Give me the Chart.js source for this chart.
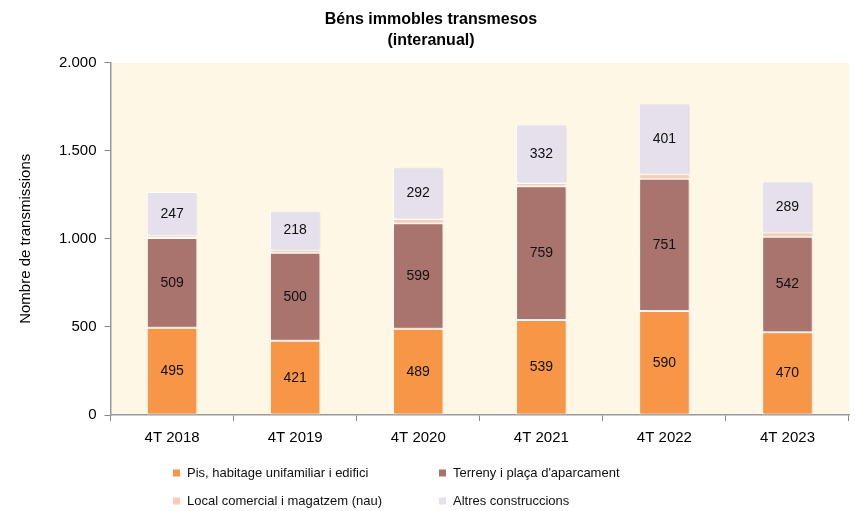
<!DOCTYPE html>
<html>
<head>
<meta charset="utf-8">
<script src="https://cdn.jsdelivr.net/npm/chart.js@4/dist/chart.umd.min.js"></script>
<style>
  body { margin: 0; background: #fff; }
  #wrap { width: 855px; height: 511px; }
</style>
</head>
<body>
<div id="wrap"><canvas id="grafic" width="855" height="511"></canvas></div>
<script>
// dades llegides del gràfic
var periodes = ["4T 2018", "4T 2019", "4T 2020", "4T 2021", "4T 2022", "4T 2023"];
var pisos = [495, 421, 489, 539, 590, 470];
var terrenys = [509, 500, 599, 759, 751, 542];
var locals = [15, 17, 25, 18, 26, 24];
var altres = [247, 218, 292, 332, 401, 289];
var ticksY = [0, 500, 1000, 1500, 2000];

var noms = ["Pis, habitage unifamiliar i edifici", "Terreny i plaça d'aparcament",
            "Local comercial i magatzem (nau)", "Altres construccions"];
var colors = ["#F79646", "#AA746E", "#FBCBB4", "#E5E0EC"];

var fontBase = "'Liberation Sans', Arial, sans-serif";

// fons crema de l'àrea del gràfic
var fons = {
  id: "fons",
  beforeDraw: function (chart) {
    var a = chart.chartArea, ctx = chart.ctx;
    ctx.save();
    ctx.fillStyle = "#FEF7E6";
    ctx.fillRect(a.left, a.top, a.right - a.left, a.bottom - a.top);
    ctx.restore();
  }
};

// ombra suau a les barres
var ombra = {
  id: "ombra",
  beforeDatasetsDraw: function (chart) {
    var ctx = chart.ctx;
    ctx.save();
    ctx.shadowColor = "rgba(0,0,0,0.15)";
    ctx.shadowBlur = 3;
    ctx.shadowOffsetX = 1;
    ctx.shadowOffsetY = 1;
  },
  afterDatasetsDraw: function (chart) {
    chart.ctx.restore();
  }
};

// valors dins de cada tram (menys el local comercial)
var etiquetes = {
  id: "etiquetes",
  afterDatasetsDraw: function (chart) {
    var ctx = chart.ctx;
    ctx.save();
    ctx.font = "14px " + fontBase;
    ctx.fillStyle = "#111";
    ctx.textAlign = "center";
    ctx.textBaseline = "middle";
    chart.data.datasets.forEach(function (ds, i) {
      if (i == 2) return;
      var meta = chart.getDatasetMeta(i);
      meta.data.forEach(function (bar, j) {
        var y = (bar.y + bar.base) / 2;
        ctx.fillText(ds.data[j], bar.x, y);
      });
    });
    ctx.restore();
  }
};

// llegenda a dues columnes
var llegenda = {
  id: "llegenda",
  afterDraw: function (chart) {
    var ctx = chart.ctx;
    var posX = [173, 439];
    var posY = [473, 501];
    ctx.save();
    ctx.font = "13px " + fontBase;
    ctx.textBaseline = "middle";
    ctx.textAlign = "left";
    for (var i = 0; i < noms.length; i++) {
      var x = posX[i % 2];
      var y = posY[Math.floor(i / 2)];
      ctx.fillStyle = colors[i];
      ctx.fillRect(x, y - 3.5, 7, 7);
      ctx.fillStyle = "#111";
      ctx.fillText(noms[i], x + 14, y);
    }
    ctx.restore();
  }
};

var series = [pisos, terrenys, locals, altres];
var datasets = [];
for (var i = 0; i < series.length; i++) {
  datasets.push({
    label: noms[i],
    data: series[i],
    backgroundColor: colors[i],
    borderColor: "#FFFFFF",
    borderWidth: 1,
    borderSkipped: false,
    categoryPercentage: 1,
    barPercentage: 0.41
  });
}

new Chart(document.getElementById("grafic"), {
  type: "bar",
  data: { labels: periodes, datasets: datasets },
  plugins: [fons, ombra, etiquetes, llegenda],
  options: {
    responsive: false,
    animation: false,
    layout: { padding: { left: 13, right: 6, top: 0, bottom: 56 } },
    plugins: {
      legend: { display: false },
      tooltip: { enabled: false },
      title: {
        display: true,
        text: ["Béns immobles transmesos", "(interanual)"],
        color: "#000",
        font: { family: fontBase, size: 16, weight: "bold", lineHeight: 1.3 },
        padding: { top: 9, bottom: 12 }
      }
    },
    scales: {
      x: {
        stacked: true,
        grid: {
          display: true,
          drawOnChartArea: false,
          drawTicks: true,
          tickLength: 6,
          color: "#888",
          offset: true
        },
        border: { color: "#999", width: 1.5 },
        ticks: { color: "#000", font: { family: fontBase, size: 15 }, padding: 8 }
      },
      y: {
        stacked: true,
        min: 0,
        max: 2000,
        afterBuildTicks: function (axis) {
          axis.ticks = ticksY.map(function (v) { return { value: v }; });
        },
        grid: {
          display: true,
          drawOnChartArea: false,
          tickLength: 6,
          color: "#888"
        },
        border: { color: "#999", width: 1.5 },
        ticks: {
          color: "#000",
          font: { family: fontBase, size: 15 },
          padding: 8,
          callback: function (v) { return String(v).replace(/\B(?=(\d{3})+(?!\d))/g, "."); }
        },
        title: {
          display: true,
          text: "Nombre de transmissions",
          color: "#000",
          font: { family: fontBase, size: 15 },
          padding: { bottom: 16 }
        }
      }
    }
  }
});
</script>
</body>
</html>
